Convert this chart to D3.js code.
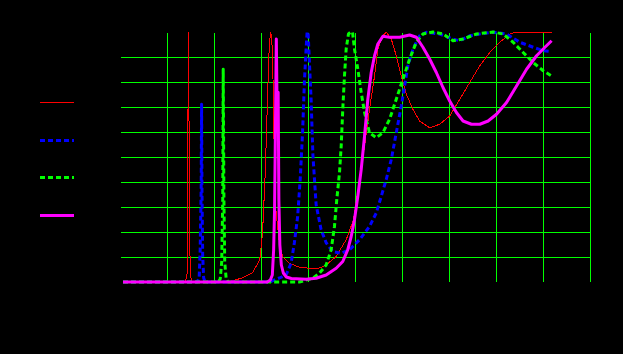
<html>

<head>
<script src="https://d3js.org/d3.v7.min.js"></script>

<style>

    body {
        margin: 0;
        background: black;
    }

    svg {
        display: block;
        background: black;
        font-family: "Liberation Sans", Arial, sans-serif;
    }

    .grid line {
        stroke: #00ff00;
        stroke-width: 1;
        shape-rendering: crispEdges;
    }

    .axis text, .label {
        fill: black;
        font-size: 11px;
    }

    .axis path, .axis line {
        stroke: black;
    }

    .curve {
        fill: none;
        stroke-linejoin: round;
    }

</style>

</head>

<body>

    <svg id='chart' width=623 height=354></svg>

<script>

    // series names (legend) and colours
    let names = ['N = 1', 'N = 2', 'N = 3', 'N = 4'];

    // tick labels
    let xTicks = d3.range(0, 11);
    let yTicks = d3.range(0, 11).map(d => d / 10);

    // [x, y] pairs
    let redData = [
        [0.064, 0], [1.386, 0.004], [1.407, 0.012], [1.429, 0.036], [1.435, 0.257], [1.456, 1.0],
        [1.482, 0.257], [1.493, 0.036], [1.514, 0.012], [1.535, 0.004], [1.578, 0], [2.004, 0],
        [2.324, 0.002], [2.601, 0.016], [2.814, 0.036], [2.974, 0.088], [3.034, 0.201], [3.092, 0.442],
        [3.141, 0.751], [3.177, 0.952], [3.205, 1.0], [3.230, 0.972], [3.252, 0.851], [3.277, 0.570],
        [3.316, 0.289], [3.390, 0.157], [3.461, 0.102], [3.603, 0.075], [3.817, 0.059], [4.030, 0.055],
        [4.243, 0.056], [4.386, 0.068], [4.599, 0.102], [4.812, 0.169], [4.968, 0.249], [5.096, 0.410],
        [5.203, 0.543], [5.309, 0.691], [5.416, 0.824], [5.486, 0.932], [5.593, 0.985], [5.665, 1.0],
        [5.772, 0.972], [5.878, 0.905], [5.985, 0.824], [6.092, 0.751], [6.232, 0.691], [6.375, 0.644],
        [6.588, 0.617], [6.802, 0.631], [7.015, 0.664], [7.228, 0.731], [7.441, 0.798], [7.655, 0.865],
        [7.868, 0.918], [8.081, 0.959], [8.294, 0.992], [8.437, 1.0], [9.183, 1.0]
    ];

    let blueData = [
        [0.064, 0], [1.642, 0], [1.684, 0.016], [1.706, 0.129], [1.727, 0.369], [1.736, 0.711],
        [1.744, 0.369], [1.759, 0.108], [1.780, 0.016], [1.812, 0], [3.177, 0], [3.390, 0.016],
        [3.533, 0.028], [3.640, 0.075], [3.710, 0.157], [3.780, 0.262], [3.838, 0.423], [3.887, 0.610],
        [3.923, 0.798], [3.959, 0.932], [3.981, 1.0], [4.002, 1.0], [4.030, 0.880], [4.066, 0.731],
        [4.104, 0.510], [4.173, 0.309], [4.279, 0.209], [4.386, 0.157], [4.527, 0.122], [4.706, 0.115],
        [4.883, 0.129], [5.096, 0.169], [5.309, 0.222], [5.452, 0.276], [5.559, 0.343], [5.665, 0.410],
        [5.772, 0.490], [5.878, 0.597], [5.985, 0.704], [6.055, 0.784], [6.126, 0.865], [6.232, 0.932],
        [6.375, 0.985], [6.518, 0.999], [6.802, 0.992], [7.085, 0.972], [7.228, 0.965], [7.441, 0.985],
        [7.655, 0.992], [7.938, 0.999], [8.224, 0.992], [8.507, 0.959], [8.791, 0.939], [9.004, 0.925],
        [9.183, 0.922]
    ];

    let greenData = [
        [0.064, 0], [2.090, 0], [2.132, 0.012], [2.164, 0.080], [2.186, 0.329], [2.196, 0.851],
        [2.211, 0.329], [2.228, 0.080], [2.260, 0.012], [2.303, 0], [3.817, 0], [4.100, 0.015],
        [4.243, 0.035], [4.386, 0.068], [4.493, 0.129], [4.563, 0.222], [4.612, 0.329], [4.670, 0.437],
        [4.706, 0.543], [4.740, 0.691], [4.776, 0.824], [4.812, 0.932], [4.861, 0.992], [4.910, 1.0],
        [4.947, 1.0], [4.989, 0.932], [5.060, 0.851], [5.132, 0.758], [5.203, 0.678], [5.309, 0.597],
        [5.452, 0.577], [5.593, 0.597], [5.736, 0.651], [5.878, 0.731], [6.019, 0.811], [6.162, 0.892],
        [6.305, 0.959], [6.446, 0.992], [6.659, 1.0], [6.872, 0.992], [7.085, 0.965], [7.299, 0.972],
        [7.584, 0.992], [7.938, 1.0], [8.151, 0.992], [8.365, 0.959], [8.578, 0.918], [8.791, 0.878],
        [9.004, 0.845], [9.183, 0.824]
    ];

    let magentaData = [
        [0.064, 0], [3.134, 0], [3.198, 0.008], [3.241, 0.028], [3.269, 0.129], [3.288, 0.285],
        [3.309, 0.651], [3.326, 0.972], [3.343, 0.691], [3.365, 0.759], [3.380, 0.329], [3.401, 0.149],
        [3.433, 0.068], [3.475, 0.036], [3.539, 0.020], [3.646, 0.014], [3.959, 0.011], [4.173, 0.015],
        [4.386, 0.028], [4.599, 0.055], [4.740, 0.082], [4.846, 0.129], [4.919, 0.182], [4.989, 0.249],
        [5.060, 0.343], [5.132, 0.450], [5.203, 0.584], [5.273, 0.731], [5.345, 0.838], [5.416, 0.905],
        [5.486, 0.952], [5.593, 0.983], [5.736, 0.979], [5.949, 0.979], [6.162, 0.988], [6.305, 0.979],
        [6.446, 0.939], [6.588, 0.892], [6.731, 0.838], [6.872, 0.778], [7.015, 0.724], [7.158, 0.678],
        [7.299, 0.644], [7.478, 0.631], [7.655, 0.631], [7.832, 0.644], [8.011, 0.671], [8.224, 0.718],
        [8.437, 0.784], [8.650, 0.851], [8.863, 0.905], [9.041, 0.939], [9.183, 0.965]
    ];

    let series = [
        { name: names[0], data: redData, color: '#ff0000', width: 1, dash: null, crisp: true },
        { name: names[1], data: blueData, color: '#0000ff', width: 3, dash: '5,3', crisp: false },
        { name: names[2], data: greenData, color: '#00ff00', width: 3, dash: '5,3', crisp: false },
        { name: names[3], data: magentaData, color: '#ff00ff', width: 3, dash: null, crisp: false }
    ];

    let svg = d3.select('#chart');
    let margin = {top: 32, right: 33, bottom: 72, left: 120},
        width = +svg.attr('width') - margin.left - margin.right,
        height = +svg.attr('height') - margin.top - margin.bottom;

    let g = svg.append('g')
        .attr('transform', 'translate(' + margin.left + ',' + margin.top + ')');

    let x = d3.scaleLinear().domain([0, 10]).range([0, width]);
    let y = d3.scaleLinear().domain([0, 1]).range([height, 0]);

    // grid
    let grid = g.append('g').attr('class', 'grid');
    grid.selectAll('.vg')
        .data(xTicks.slice(1))
      .enter().append('line')
        .attr('x1', d => Math.round(x(d)) + 0.5)
        .attr('x2', d => Math.round(x(d)) + 0.5)
        .attr('y1', 1)
        .attr('y2', height);
    grid.selectAll('.hg')
        .data(yTicks.slice(1, -1))
      .enter().append('line')
        .attr('x1', 1)
        .attr('x2', width)
        .attr('y1', d => Math.round(y(d)) + 0.5)
        .attr('y2', d => Math.round(y(d)) + 0.5);

    // axes (black on black, as in the picture)
    g.append('g')
        .attr('class', 'axis')
        .attr('transform', 'translate(0,' + height + ')')
        .call(d3.axisBottom(x).tickValues(xTicks).tickFormat(d3.format('d')));
    g.append('g')
        .attr('class', 'axis')
        .call(d3.axisLeft(y).tickValues(yTicks).tickFormat(d3.format('.1f')));

    svg.append('text').attr('class', 'label')
        .attr('x', margin.left + width / 2).attr('y', 18)
        .attr('text-anchor', 'middle')
        .text('Transmission spectra');
    svg.append('text').attr('class', 'label')
        .attr('x', margin.left + width / 2).attr('y', 325)
        .attr('text-anchor', 'middle')
        .text('Frequency');
    svg.append('text').attr('class', 'label')
        .attr('transform', 'translate(18,' + (margin.top + height / 2) + ') rotate(-90)')
        .attr('text-anchor', 'middle')
        .text('Transmission');

    // curves
    let line = d3.line()
        .x(d => x(d[0]))
        .y(d => y(d[1]));

    g.selectAll('.curve')
        .data(series)
      .enter().append('path')
        .attr('class', 'curve')
        .attr('d', d => line(d.data))
        .attr('stroke', d => d.color)
        .attr('stroke-width', d => d.width)
        .attr('stroke-dasharray', d => d.dash)
        .style('shape-rendering', d => d.crisp ? 'crispEdges' : null);

    // legend
    let legend = svg.append('g')
        .attr('transform', 'translate(40,102.5)');
    let items = legend.selectAll('.item')
        .data(series)
      .enter().append('g')
        .attr('transform', (d, i) => 'translate(0,' + Math.round(i * 37.7) + ')');
    items.append('line')
        .attr('x1', 0).attr('x2', 34)
        .attr('stroke', d => d.color)
        .attr('stroke-width', d => d.width)
        .attr('stroke-dasharray', d => d.dash)
        .style('shape-rendering', 'crispEdges');
    items.append('text')
        .attr('class', 'label')
        .attr('x', -4).attr('dy', '0.35em')
        .attr('text-anchor', 'end')
        .text(d => d.name);

</script>

</body>

</html>
